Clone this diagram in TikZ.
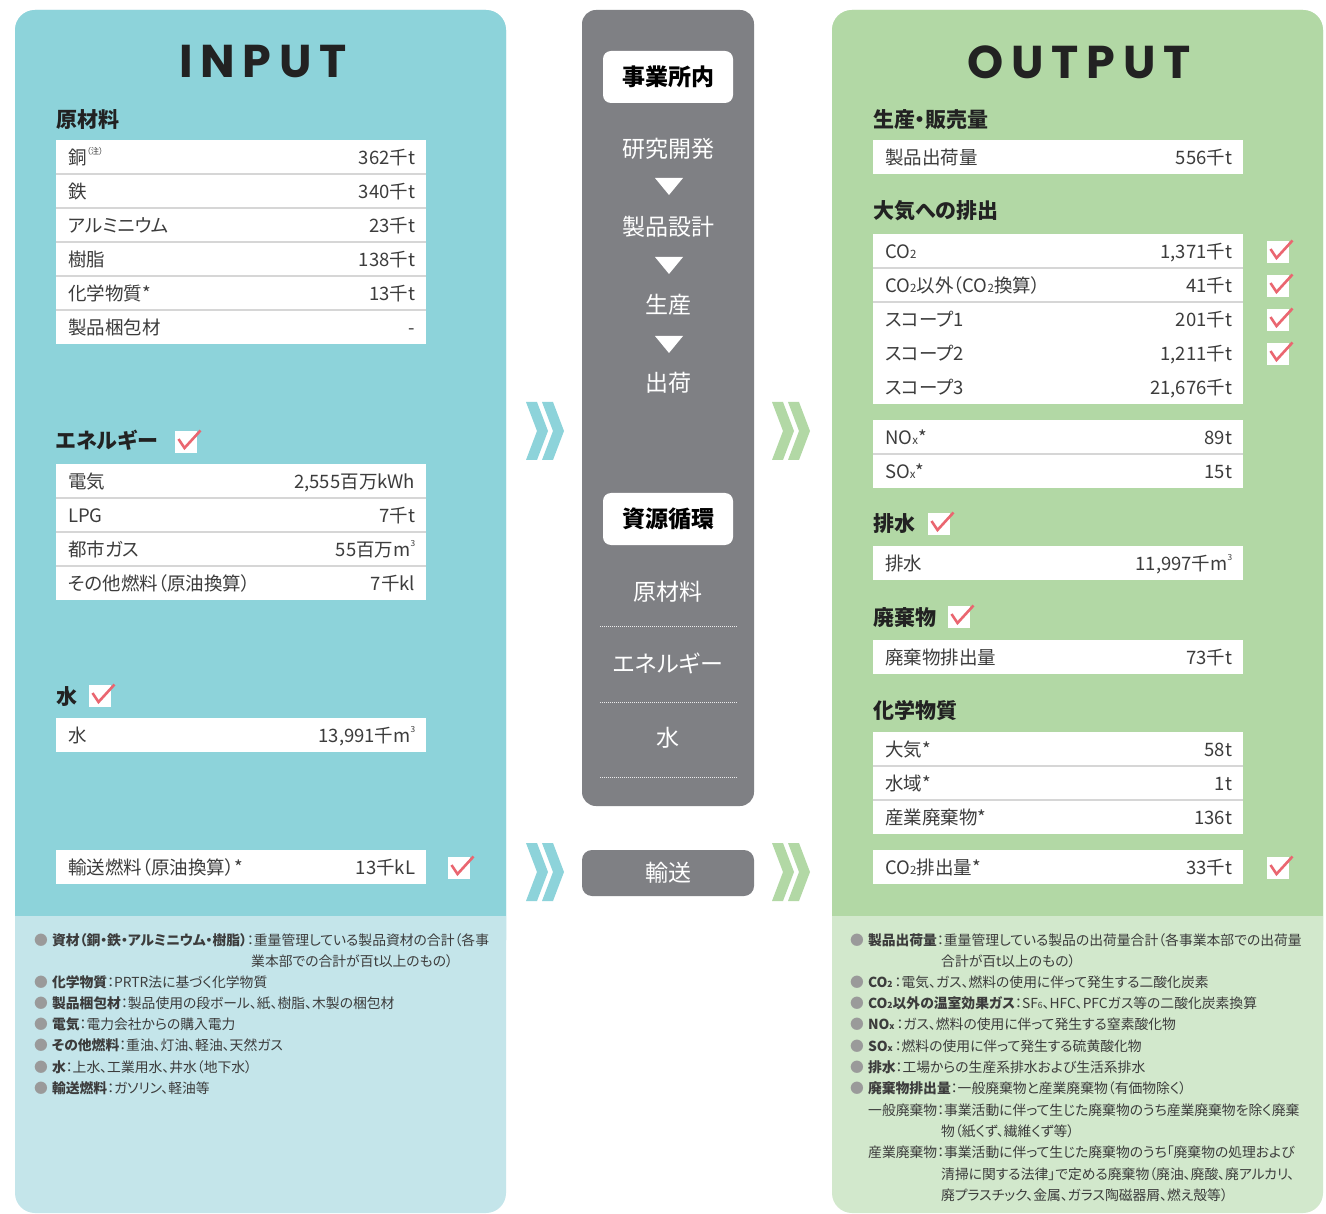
\documentclass[tikz,border=0pt]{standalone}
\usepackage{fontspec}
\setmainfont{Noto Sans CJK JP}[RawFeature=+palt]
\newfontfamily\ttlfont{Poppins}[LetterSpace=17]
\definecolor{inTeal}{HTML}{8DD3DA}
\definecolor{inTealL}{HTML}{C4E5EA}
\definecolor{outGreen}{HTML}{B2D8A5}
\definecolor{outGreenL}{HTML}{D2E8CC}
\definecolor{midGray}{HTML}{7F8084}
\definecolor{chkRed}{HTML}{EA6670}
\definecolor{txtDark}{HTML}{3C3C3C}
\definecolor{hdrDark}{HTML}{222222}
\definecolor{sepGray}{HTML}{D6D6D6}
\definecolor{bulGray}{HTML}{9A9A9A}
\newcommand\rowfont{\fontsize{18.5}{18.5}\selectfont}
\newcommand\hdrfont{\fontsize{21}{21}\selectfont\bfseries}
\newcommand\midfont{\fontsize{23}{23}\selectfont}
\newcommand\notefont{\fontsize{13.8}{13.8}\selectfont}
\makeatletter
\newcommand\mysub[1]{{\fontsize{\fpeval{0.62*\f@size}}{1}\selectfont #1}}
\newcommand\mysup[1]{\raisebox{0.55em}{\fontsize{\fpeval{0.45*\f@size}}{1}\selectfont #1}}
\makeatother
\newcommand\bul{{\color{bulGray}●}\hspace{4pt}}
\begin{document}
\begin{tikzpicture}[x=1pt,y=-1pt,
  cell/.style={anchor=north west, fill=white, inner sep=0, minimum width=370pt, minimum height=34pt},
  lbl/.style={anchor=west, inner sep=0, font=\rowfont, text=txtDark, text height=16.3pt, text depth=2.2pt},
  val/.style={anchor=east, inner sep=0, font=\rowfont, text=txtDark, text height=16.3pt, text depth=2.2pt},
  hdr/.style={anchor=west, inner sep=0, font=\hdrfont, text=hdrDark, text height=18.5pt, text depth=2.5pt},
  midtxt/.style={inner sep=0, font=\midfont, text=white, text height=20.2pt, text depth=2.8pt},
  midbox/.style={fill=white, rounded corners=8pt, minimum width=130pt, minimum height=52pt, inner sep=0, font=\midfont\bfseries, text=black},
  note/.style={anchor=west, inner sep=0, font=\notefont, text=txtDark, text height=11pt, text depth=1.5pt},
  ttl/.style={inner sep=0, font=\ttlfont\bfseries\fontsize{46}{46}\selectfont, text=hdrDark},
  sep/.style={draw=sepGray, line width=2pt},
  dotsep/.style={draw=white!85!midGray, line width=0.8pt, dash pattern=on 1pt off 1pt},
  chev/.pic={\fill[#1] (0,0) -- (11,0) -- (22,29) -- (11,58) -- (0,58) -- (11,29) -- cycle;
             \fill[#1] (16,0) -- (27,0) -- (38,29) -- (27,58) -- (16,58) -- (27,29) -- cycle;},
  chk/.pic={\fill[white] (0,0) rectangle (22,22);
            \draw[chkRed, line width=2.6pt] (3.5,8) -- (9.5,17) -- (25.5,-0.5);}
]
\useasboundingbox (0,0) rectangle (1326,1214);
\fill[white] (0,0) rectangle (1326,1214);

% ---------- panels ----------
\fill[inTealL, rounded corners=20pt] (15,10) rectangle (506,1213);
\fill[inTeal, rounded corners=20pt] (15,10) rectangle (506,960);
\fill[inTealL] (15,916) rectangle (506,962);
\fill[outGreenL, rounded corners=20pt] (832,10) rectangle (1323,1213);
\fill[outGreen, rounded corners=20pt] (832,10) rectangle (1323,960);
\fill[outGreenL] (832,916) rectangle (1323,962);

% ---------- middle ----------
\node[fill=midGray, rounded corners=14pt, minimum width=172pt, minimum height=796pt, inner sep=0] (mid) at (668,408) {};
\node[fill=midGray, rounded corners=10pt, minimum width=172pt, minimum height=46pt, inner sep=0] (trans) at (668,873) {};
\node[midtxt] (transT) at (trans.center) {輸送};
\node[midbox] (jigyo) at (668,77) {事業所内};
\node[midtxt] (kenkyu) at (668,149) {研究開発};
\fill[white] (655,178) -- (683,178) -- (669,195) -- cycle;
\node[midtxt] (sekkei) at (668,227) {製品設計};
\fill[white] (655,257) -- (683,257) -- (669,274) -- cycle;
\node[midtxt] (seisan) at (668,305) {生産};
\fill[white] (655,336) -- (683,336) -- (669,353) -- cycle;
\node[midtxt] (shukka) at (668,383) {出荷};
\node[midbox] (shigen) at (668,519) {資源循環};
\node[midtxt] (mZai) at (668,592) {原材料};
\draw[dotsep] (600,626.5) -- (737,626.5);
\node[midtxt] (mEne) at (668,664) {エネルギー};
\draw[dotsep] (600,702) -- (737,702);
\node[midtxt] (mMizu) at (668,738) {水};
\draw[dotsep] (600,777.5) -- (737,777.5);

% chevrons
\pic at (526,402) {chev=inTeal};
\pic at (526,843) {chev=inTeal};
\pic at (772,402) {chev=outGreen};
\pic at (772,843) {chev=outGreen};

% ---------- INPUT ----------
\node[ttl] (inT) at (263,62) {INPUT};
\node[hdr] (hZai) at (56,120) {原材料};
\foreach \n/\y/\a/\b in {t1a/140/{銅\mysup{（注）}}/362千t, t1b/174/鉄/340千t, t1c/208/アルミニウム/23千t, t1d/242/樹脂/138千t, t1e/276/化学物質*/13千t, t1f/310/製品梱包材/-}{
  \node[cell] (\n) at (56,\y) {};
  \node[lbl] (\n l) at ([xshift=12pt]\n.west) {\a};
  \node[val] (\n v) at ([xshift=-11pt]\n.east) {\b};
}
\foreach \n in {t1a,t1b,t1c,t1d,t1e}{\draw[sep] (\n.south west) -- (\n.south east);}

\node[hdr] (hEne) at (56,441) {エネルギー};
\pic at (175,431) {chk};
\foreach \n/\y/\a/\b in {t2a/464/電気/{2,555百万kWh}, t2b/498/LPG/7千t, t2c/532/都市ガス/{55百万m\mysup{3}}, t2d/566/その他燃料（原油換算）/7千kl}{
  \node[cell] (\n) at (56,\y) {};
  \node[lbl] (\n l) at ([xshift=12pt]\n.west) {\a};
  \node[val] (\n v) at ([xshift=-11pt]\n.east) {\b};
}
\foreach \n in {t2a,t2b,t2c}{\draw[sep] (\n.south west) -- (\n.south east);}

\node[hdr] (hMizu) at (56,696) {水};
\pic at (89,685) {chk};
\node[cell] (t3a) at (56,718) {};
\node[lbl] (t3al) at ([xshift=12pt]t3a.west) {水};
\node[val] (t3av) at ([xshift=-11pt]t3a.east) {13,991千m\mysup{3}};

\node[cell] (t4a) at (56,850) {};
\node[lbl] (t4al) at ([xshift=12pt]t4a.west) {輸送燃料（原油換算）*};
\node[val] (t4av) at ([xshift=-11pt]t4a.east) {13千kL};
\pic at (448,857) {chk};

% notes left
\node[note] (nl1) at (34,941) {\bul\textbf{資材（銅・鉄・アルミニウム・樹脂）}：重量管理している製品資材の合計（各事};
\node[note] (nl1b) at (251,962) {業本部での合計が百t以上のもの）};
\node[note] (nl2) at (34,983) {\bul\textbf{化学物質}：PRTR法に基づく化学物質};
\node[note] (nl3) at (34,1004) {\bul\textbf{製品梱包材}：製品使用の段ボール、紙、樹脂、木製の梱包材};
\node[note] (nl4) at (34,1025) {\bul\textbf{電気}：電力会社からの購入電力};
\node[note] (nl5) at (34,1046) {\bul\textbf{その他燃料}：重油、灯油、軽油、天然ガス};
\node[note] (nl6) at (34,1068) {\bul\textbf{水}：上水、工業用水、井水（地下水）};
\node[note] (nl7) at (34,1089) {\bul\textbf{輸送燃料}：ガソリン、軽油等};

% ---------- OUTPUT ----------
\node[ttl] (outT) at (1079,62) {OUTPUT};
\node[hdr] (hSei) at (873,120) {生産・販売量};
\node[cell] (r1a) at (873,140) {};
\node[lbl] (r1al) at ([xshift=12pt]r1a.west) {製品出荷量};
\node[val] (r1av) at ([xshift=-11pt]r1a.east) {556千t};

\node[hdr] (hTai) at (873,211) {大気への排出};
\foreach \n/\y/\a/\b in {r2a/234/{CO\mysub{2}}/{1,371千t}, r2b/268/{CO\mysub{2}以外（CO\mysub{2}換算）}/41千t, r2c/302/スコープ1/201千t, r2d/336/スコープ2/{1,211千t}, r2e/370/スコープ3/{21,676千t}}{
  \node[cell] (\n) at (873,\y) {};
  \node[lbl] (\n l) at ([xshift=12pt]\n.west) {\a};
  \node[val] (\n v) at ([xshift=-11pt]\n.east) {\b};
}
\foreach \n in {r2a,r2b}{\draw[sep] (\n.south west) -- (\n.south east);}
\pic at (1267,241) {chk};
\pic at (1267,275) {chk};
\pic at (1267,309) {chk};
\pic at (1267,343) {chk};

\foreach \n/\y/\a/\b in {r3a/420/{NO\mysub{x}*}/89t, r3b/454/{SO\mysub{x}*}/15t}{
  \node[cell] (\n) at (873,\y) {};
  \node[lbl] (\n l) at ([xshift=12pt]\n.west) {\a};
  \node[val] (\n v) at ([xshift=-11pt]\n.east) {\b};
}
\draw[sep] (r3a.south west) -- (r3a.south east);

\node[hdr] (hHai) at (873,524) {排水};
\pic at (928,513) {chk};
\node[cell] (r4a) at (873,546) {};
\node[lbl] (r4al) at ([xshift=12pt]r4a.west) {排水};
\node[val] (r4av) at ([xshift=-11pt]r4a.east) {11,997千m\mysup{3}};

\node[hdr] (hHaiki) at (873,617) {廃棄物};
\pic at (948,606) {chk};
\node[cell] (r5a) at (873,640) {};
\node[lbl] (r5al) at ([xshift=12pt]r5a.west) {廃棄物排出量};
\node[val] (r5av) at ([xshift=-11pt]r5a.east) {73千t};

\node[hdr] (hKa) at (873,710) {化学物質};
\foreach \n/\y/\a/\b in {r6a/732/大気*/58t, r6b/766/水域*/1t, r6c/800/産業廃棄物*/136t}{
  \node[cell] (\n) at (873,\y) {};
  \node[lbl] (\n l) at ([xshift=12pt]\n.west) {\a};
  \node[val] (\n v) at ([xshift=-11pt]\n.east) {\b};
}
\foreach \n in {r6a,r6b}{\draw[sep] (\n.south west) -- (\n.south east);}

\node[cell] (r7a) at (873,850) {};
\node[lbl] (r7al) at ([xshift=12pt]r7a.west) {CO\mysub{2}排出量*};
\node[val] (r7av) at ([xshift=-11pt]r7a.east) {33千t};
\pic at (1267,857) {chk};

% notes right
\node[note] (nr1) at (850,941) {\bul\textbf{製品出荷量}：重量管理している製品の出荷量合計（各事業本部での出荷量};
\node[note] (nr1b) at (941,962) {合計が百t以上のもの）};
\node[note] (nr2) at (850,983) {\bul\textbf{CO\mysub{2}}\hspace{2pt}：電気、ガス、燃料の使用に伴って発生する二酸化炭素};
\node[note] (nr3) at (850,1004) {\bul\textbf{CO\mysub{2}以外の温室効果ガス}：SF\mysub{6}、HFC、PFCガス等の二酸化炭素換算};
\node[note] (nr4) at (850,1025) {\bul\textbf{NO\mysub{x}}\hspace{2pt}：ガス、燃料の使用に伴って発生する窒素酸化物};
\node[note] (nr5) at (850,1047) {\bul\textbf{SO\mysub{x}}\hspace{2pt}：燃料の使用に伴って発生する硫黄酸化物};
\node[note] (nr6) at (850,1068) {\bul\textbf{排水}：工場からの生産系排水および生活系排水};
\node[note] (nr7) at (850,1089) {\bul\textbf{廃棄物排出量}：一般廃棄物と産業廃棄物（有価物除く）};
\node[note] (nr8) at (868,1111) {一般廃棄物：事業活動に伴って生じた廃棄物のうち産業廃棄物を除く廃棄};
\node[note] (nr8b) at (941,1132) {物（紙くず、繊維くず等）};
\node[note] (nr9) at (868,1153) {産業廃棄物：事業活動に伴って生じた廃棄物のうち「廃棄物の処理および};
\node[note] (nr9b) at (941,1175) {清掃に関する法律」で定める廃棄物（廃油、廃酸、廃アルカリ、};
\node[note] (nr9c) at (941,1196) {廃プラスチック、金属、ガラス陶磁器屑、燃え殻等）};
\end{tikzpicture}
\end{document}
